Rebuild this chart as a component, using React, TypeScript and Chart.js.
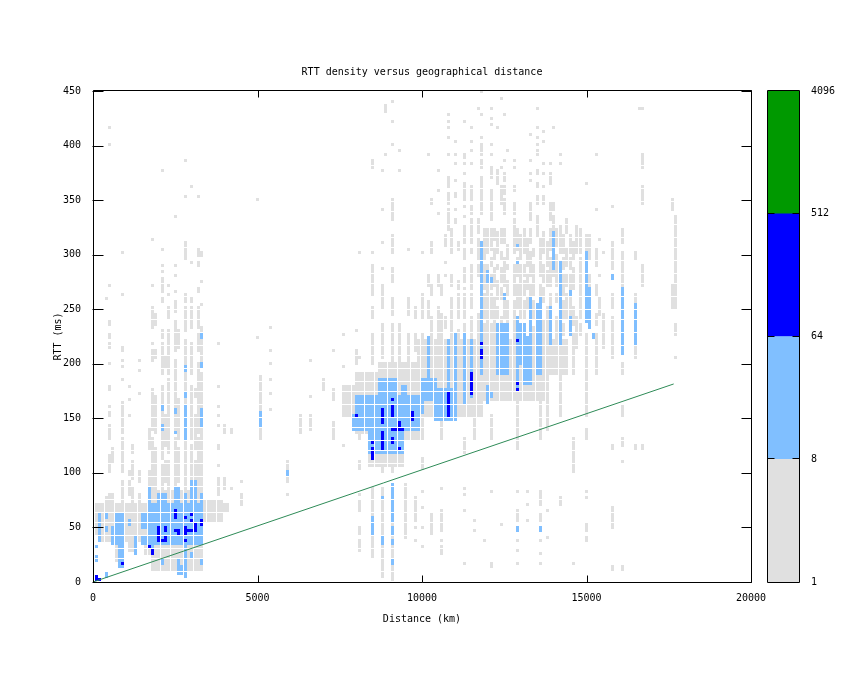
import React, { useEffect, useRef } from "react";
import { Chart, registerables } from "chart.js";

Chart.register(...registerables);

const titleText = "RTT density versus geographical distance";
const xLabel = "Distance (km)";
const yLabel = "RTT (ms)";
const colourTicks = [1, 8, 64, 512, 4096];
const colourBands = [[1, 8], [8, 64], [64, 512], [512, 4096]];
const bandColours = ["#e0e0e0", "#80bfff", "#0000ff", "#009900"];
const fitLine = [{ x: 0, y: 0 }, { x: 17650, y: 181.5 }];

// [kmLo, kmHi, msLo, msHi]
const grayBlocks = [
  [0, 200, 42, 72], [200, 1600, 36, 72], [600, 900, 18, 36], [1000, 1200, 27, 36], [1500, 1700, 24, 36], [1600, 1700, 24, 75], [1700, 3300, 9, 84], [3300, 3900, 54, 75], [3900, 4100, 63, 72],
  [7900, 8300, 135, 190], [8300, 9400, 105, 190], [9400, 10000, 130, 190], [7500, 7900, 150, 180], [8600, 9900, 190, 200],
  [9800, 11800, 150, 222], [11000, 14400, 190, 222], [11800, 13800, 165, 190],
];
const lightBlocks = [
  [1600, 3300, 33, 72], [1600, 1700, 72, 87], [1900, 2200, 72, 81], [2400, 2600, 72, 87], [2700, 2800, 72, 81], [2900, 3100, 72, 92], [3200, 3300, 72, 81],
  [600, 900, 34, 63], [300, 400, 57, 63], [300, 400, 45, 51], [500, 600, 35, 51], [1000, 1100, 51, 57], [1200, 1300, 34, 42], [1400, 1600, 48, 61], [1400, 1600, 34, 42],
  [7900, 10000, 153, 170], [7800, 9900, 140, 153], [8300, 9400, 117, 140], [8600, 9200, 170, 185], [9300, 9500, 170, 180],
  [9900, 10400, 165, 185], [10300, 11000, 148, 175], [12200, 12600, 190, 237], [13000, 13300, 180, 225], [13400, 13600, 190, 255],
  [12900, 13100, 200, 235],
];
const blueCells = [
  [0, 0], [0, 3], [100, 0],
  [2400, 63], [2400, 60], [2400, 57], [2700, 57], [2900, 60], [2900, 54], [3200, 54], [3200, 51],
  [1900, 48], [1900, 45], [1900, 42], [1900, 39], [1900, 36], [2100, 48], [2100, 45], [2400, 45], [2500, 45], [2500, 42],
  [2700, 48], [2700, 45], [2700, 42], [2800, 45], [2900, 45], [3000, 51], [3000, 48], [3000, 45], [2700, 36], [2000, 36], [2100, 36], [2100, 39],
  [1600, 30], [1700, 27], [1700, 24], [800, 15],
  [7900, 150], [8700, 156], [8700, 153], [8700, 150], [8700, 147], [8700, 144], [8700, 135], [8700, 132], [8700, 129], [8700, 126], [8700, 123], [8700, 120],
  [9000, 165], [9000, 159], [9000, 156], [9000, 153], [9000, 150], [9000, 138], [9000, 129], [9000, 126],
  [9200, 144], [9200, 141], [9100, 138], [9200, 138], [9300, 138], [9600, 153], [9600, 150], [9600, 147],
  [8400, 126], [8400, 120], [8400, 117], [8400, 114], [8400, 111], [9200, 120],
  [10700, 171], [10700, 168], [10700, 165], [10700, 162], [10700, 159], [10700, 156], [10700, 153], [10700, 150],
  [11400, 189], [11400, 186], [11400, 183], [11400, 180], [11400, 177], [11400, 174], [11400, 171],
  [11700, 216], [11700, 210], [11700, 207], [11700, 204], [12800, 219], [12800, 180], [12800, 174],
];
// [km, lo, hi, lo, hi, ...]
const lightCols = [
  [2700, 193, 197, 170, 172, 130, 160, 3, 30], [3200, 224, 226, 196, 198, 141, 156], [2000, 158, 160, 140, 142], [2400, 154, 156, 135, 137], [5000, 142, 155],
  [5800, 96, 99], [2600, 7, 12], [2500, 8, 18], [0, 30, 32, 18, 21], [100, 36, 60], [2900, 21, 24], [3200, 15, 18], [2000, 15, 18], [700, 21, 32, 12, 18], [800, 21, 32, 12, 18], [1200, 24, 30], [1700, 25, 32], [300, 3, 6],
  [8400, 44, 57], [8700, 75, 77, 35, 41], [9000, 84, 87, 54, 81, 43, 48, 35, 38, 17, 19], [12800, 46, 48], [13500, 46, 48],
  [10100, 179, 222], [10700, 148, 219], [10900, 158, 225], [11200, 164, 225], [11400, 170, 219], [11700, 191, 310], [11900, 164, 179, 274, 284], [12000, 170, 173, 275, 278],
  [12300, 191, 231], [12400, 258, 263], [12800, 179, 240, 292, 292, 306, 306], [13200, 200, 258], [13500, 191, 258], [13800, 216, 249], [13900, 286, 318], [14100, 216, 292], [14900, 237, 300], [15000, 231, 269], [16000, 208, 269], [16400, 217, 254], [15700, 277, 279],
  [14400, 225, 240, 262, 264], [15100, 223, 226],
];
const grayCols = [
  [400, 66, 80, 130, 142, 150, 153, 159, 159, 176, 179, 200, 200, 213, 213, 218, 218, 222, 222, 226, 226, 234, 238, 270, 270, 100, 115, 416, 416, 400, 400],
  [800, 100, 130, 135, 164, 185, 185, 197, 197, 203, 203, 211, 215, 263, 263, 300, 300, 72, 90],
  [500, 72, 80, 110, 120], [300, 72, 75, 260, 260], [1100, 72, 85, 95, 110, 118, 125], [1300, 72, 80, 90, 100, 173, 173, 194, 194, 203, 203], [1000, 80, 90, 96, 100, 152, 152, 165, 165, 178, 178],
  [1600, 84, 100, 120, 140],
  [1700, 84, 130, 140, 176, 202, 210, 216, 216, 231, 246, 251, 251, 270, 270, 313, 313],
  [1800, 84, 120, 135, 170, 205, 210, 235, 245],
  [2000, 84, 105, 112, 179, 191, 218, 222, 228, 256, 258, 264, 270, 274, 278, 284, 284, 290, 290, 305, 305, 377, 377],
  [2100, 90, 110, 125, 150, 195, 205],
  [2200, 84, 110, 118, 185, 190, 225, 228, 228, 240, 250, 262, 262, 270, 270],
  [2400, 84, 130, 138, 203, 212, 237, 248, 255, 266, 266, 280, 280, 290, 290, 335, 335],
  [2500, 90, 120, 130, 165, 215, 230],
  [2700, 84, 190, 192, 220, 230, 250, 255, 262, 295, 310, 353, 353, 385, 385],
  [2900, 84, 125, 130, 179, 190, 218, 231, 250, 255, 258, 292, 292, 362, 362],
  [3000, 90, 110, 120, 150, 170, 176],
  [3100, 84, 130, 137, 198, 210, 225, 231, 250, 265, 268, 289, 292, 298, 302, 305, 305, 353, 353],
  [3200, 84, 140, 145, 190, 200, 220, 228, 232, 254, 254, 275, 275, 298, 302],
  [3700, 78, 95, 105, 105, 120, 125, 142, 142, 152, 152, 161, 161, 179, 179, 218, 218],
  [3900, 85, 95, 136, 142], [4100, 85, 85, 136, 139], [4400, 70, 78, 90, 90], [5000, 130, 188], [4900, 350, 350, 222, 222], [5300, 158, 158, 173, 173, 185, 185, 200, 200, 210, 210, 232, 232],
  [5800, 90, 108, 80, 80], [6200, 137, 150], [6500, 140, 150, 170, 170, 202, 202],
  [6900, 175, 185], [7200, 130, 145, 165, 175, 210, 210], [7500, 125, 125, 195, 195, 225, 225], [7900, 200, 212, 230, 230],
  [8000, 29, 38, 43, 50, 63, 72, 78, 78, 102, 110, 205, 205], [8400, 23, 84, 200, 225, 240, 250, 262, 290, 300, 300, 380, 385], [8700, 5, 84, 100, 112, 205, 235, 250, 270, 285, 285, 310, 310, 340, 340, 375, 375], [9000, 2, 87, 100, 110, 200, 235, 245, 260, 275, 285, 300, 315, 330, 350, 400, 400, 420, 420, 440, 440],
  [9400, 40, 87], [9700, 38, 38, 48, 48, 54, 75, 210, 225, 240, 250], [9900, 31, 31, 48, 48, 68, 68, 83, 83, 102, 112, 200, 225, 240, 262, 300, 300],
  [10100, 390, 390, 240, 255, 270, 280], [10200, 43, 60, 222, 240, 262, 270, 300, 310, 345, 350], [10400, 376, 376, 359, 359, 338, 338, 222, 250, 270, 280], [10500, 25, 31, 37, 37, 45, 64, 84, 84, 130, 145, 222, 245, 262, 270],
  [10600, 231, 240, 280, 280, 292, 292, 308, 316],
  [10700, 428, 428, 422, 422, 416, 416, 406, 406, 390, 390, 361, 371, 345, 356, 330, 341, 323, 327],
  [10800, 222, 240, 240, 258, 270, 280, 300, 322],
  [10900, 403, 403, 392, 392, 382, 382, 368, 368, 351, 356, 341, 341, 329, 332],
  [11000, 222, 230, 240, 262, 268, 275, 304, 310],
  [11200, 17, 17, 64, 64, 80, 80, 86, 86, 118, 130, 222, 235, 240, 262, 268, 268, 275, 286, 295, 304, 310, 324, 335, 335, 344, 344, 349, 364, 373, 373, 382, 382, 388, 392, 422, 422],
  [11400, 222, 240, 250, 262, 268, 290, 300, 304, 310, 330, 336, 344, 350, 361, 382, 382, 394, 394, 403, 403, 416, 416],
  [11500, 46, 46, 55, 55, 130, 148],
  [11600, 222, 245, 280, 288, 295, 313, 318, 330, 432, 432],
  [11700, 336, 355, 358, 364, 367, 371, 379, 385, 390, 396, 401, 401, 406, 406, 428, 428, 449, 449],
  [11800, 37, 37, 222, 235, 240, 262, 268, 290, 295, 322],
  [11900, 222, 240, 240, 258, 262, 290, 300, 322],
  [12000, 13, 17, 83, 83, 130, 150, 222, 235, 240, 262, 268, 280, 290, 295, 305, 322, 330, 335, 336, 345, 348, 358, 370, 375, 379, 379, 390, 390, 399, 399, 419, 419, 425, 425, 432, 432],
  [12100, 222, 240, 245, 258, 270, 286, 295, 304, 313, 322],
  [12200, 222, 235, 240, 250, 260, 275, 286, 290, 300, 318, 365, 375, 416, 416],
  [12300, 52, 52, 222, 240, 260, 268, 275, 285, 295, 300, 310, 322, 345, 360, 379, 379, 443, 443],
  [12400, 222, 235, 240, 258, 270, 295, 310, 322, 336, 350, 355, 360, 367, 372, 384, 384, 428, 428],
  [12500, 222, 238, 240, 255, 262, 275, 285, 290, 295, 308, 394, 394],
  [12700, 222, 240, 245, 255, 262, 290, 300, 332, 336, 345, 358, 362, 378, 378, 385, 385],
  [12800, 17, 17, 28, 28, 37, 37, 54, 63, 83, 83, 120, 165, 250, 270, 280, 295, 305, 322],
  [12900, 222, 230, 240, 258, 262, 270, 275, 288, 295, 315],
  [13000, 240, 255, 262, 275, 280, 290, 300, 322],
  [13100, 54, 54, 70, 70, 83, 83, 250, 258, 268, 280, 290, 313],
  [13200, 222, 240, 255, 270, 280, 300, 310, 322, 330, 345, 368, 368, 374, 374, 386, 386, 410, 410],
  [13300, 222, 231, 240, 255, 262, 270, 275, 290, 298, 304],
  [13400, 315, 335, 345, 352, 361, 365, 372, 377, 390, 390, 395, 395, 401, 401, 406, 406, 416, 416, 432, 432],
  [13500, 17, 17, 26, 26, 37, 37, 54, 60, 70, 83, 130, 165, 262, 270, 280, 313],
  [13600, 222, 238, 255, 268, 275, 290, 300, 318, 345, 352, 362, 362, 373, 373, 382, 382, 404, 404, 413, 413],
  [13700, 39, 39, 64, 64, 140, 165, 222, 250, 270, 284, 290, 310],
  [13800, 225, 240, 250, 262, 270, 295, 305, 322, 330, 345, 364, 364, 367, 373, 382, 382],
  [13900, 280, 300, 318, 335, 340, 345, 416, 416],
  [14000, 222, 240, 255, 262, 270, 298, 308, 322],
  [14100, 70, 75, 150, 190, 300, 325, 382, 382, 390, 390],
  [14200, 225, 235, 240, 255, 262, 280, 285, 295, 300, 315],
  [14300, 240, 262, 270, 280, 290, 304, 318, 330],
  [14400, 245, 258, 262, 280, 285, 295, 300, 316],
  [14500, 17, 17, 100, 130, 190, 225, 235, 250, 268, 286, 295, 310],
  [14600, 300, 325, 215, 240],
  [14700, 225, 235, 240, 255, 258, 295, 300, 322],
  [14900, 37, 40, 46, 52, 75, 75, 83, 83, 130, 140, 150, 225, 300, 315, 364, 364],
  [15000, 250, 260, 270, 280, 295, 316],
  [15200, 190, 225, 235, 245, 262, 270, 290, 305, 341, 341, 392, 392],
  [15300, 245, 260, 280, 280, 313, 313],
  [15400, 215, 245, 300, 300],
  [15700, 10, 14, 50, 66, 120, 125, 205, 240, 250, 262, 285, 310, 344, 344],
  [16000, 10, 14, 110, 110, 125, 130, 150, 160, 190, 200, 270, 300, 310, 322], [16400, 120, 125, 205, 262, 295, 300], [16600, 120, 125, 270, 290, 345, 360, 380, 390, 432, 432], [16500, 432, 432],
  [17500, 250, 270, 340, 350], [17600, 205, 205, 225, 235, 250, 333],
  [8000, 130, 150, 300, 300], [8800, 390, 390, 430, 435], [9200, 200, 235, 375, 375, 395, 395], [9500, 200, 225, 245, 260, 305, 305],
];

type Cell = { x: number; y: number };
const toCell = (km: number, ms: number): Cell => ({ x: km + 50, y: Math.floor(ms / 3) * 3 + 1.5 });
function expandBlocks(blocks: number[][]): Cell[] {
  const out: Cell[] = [];
  for (const [a, b, c, d] of blocks)
    for (let km = a; km < b; km += 100)
      for (let ms = Math.floor(c / 3) * 3; ms < d; ms += 3) out.push(toCell(km, ms));
  return out;
}
function expandCols(cols: number[][]): Cell[] {
  const out: Cell[] = [];
  for (const col of cols)
    for (let i = 1; i + 1 < col.length; i += 2) {
      const lo = Math.min(col[i], col[i + 1]);
      const hi = Math.max(col[i], col[i + 1]);
      for (let ms = Math.floor(lo / 3) * 3; ms <= hi; ms += 3) out.push(toCell(col[0], ms));
    }
  return out;
}

const monoFont = { family: "'DejaVu Sans Mono', monospace", size: 10 };

const snapCells = {
  id: "snapCells",
  afterDatasetsUpdate(chart: any) {
    chart.data.datasets.forEach((ds: any, i: number) => {
      if (ds.type === "line") return;
      for (const el of chart.getDatasetMeta(i).data) {
        el.x = Math.round(el.x + 1.25) + 0.5;
        el.y = Math.round(el.y - 0.2) - 0.5;
      }
    });
  },
};

const frameTicks = {
  id: "frameTicks",
  afterDraw(chart: any) {
    const { ctx, chartArea: a, scales } = chart;
    const L = Math.round(a.left) + 0.5, R = Math.round(a.right) + 0.5, T = Math.round(a.top) - 0.5, B = Math.round(a.bottom) + 0.5;
    ctx.save();
    ctx.strokeStyle = "#000";
    ctx.lineWidth = 1;
    ctx.beginPath();
    ctx.rect(L, T, R - L, B - T);
    for (const t of scales.x.ticks) {
      const p = Math.round(scales.x.getPixelForValue(t.value)) + 0.5;
      ctx.moveTo(p, B); ctx.lineTo(p, B - 7);
      ctx.moveTo(p, T); ctx.lineTo(p, T + 7);
    }
    for (const t of scales.y.ticks) {
      const p = Math.round(scales.y.getPixelForValue(t.value)) + 0.5;
      ctx.moveTo(L - 1, p); ctx.lineTo(L + 10, p);
      ctx.moveTo(R, p); ctx.lineTo(R - 10, p);
    }
    ctx.stroke();
    ctx.restore();
  },
};

const barFrame = {
  id: "barFrame",
  afterDraw(chart: any) {
    const { ctx, chartArea: a, scales } = chart;
    const L = Math.round(a.left) - 0.5, R = Math.round(a.right) - 0.5, T = Math.round(a.top) - 0.5, B = Math.round(a.bottom) + 0.5;
    ctx.save();
    ctx.strokeStyle = "#000";
    ctx.lineWidth = 1;
    ctx.beginPath();
    ctx.rect(L, T, R - L, B - T);
    for (const v of colourTicks.slice(1, -1)) {
      const p = Math.round(scales.y.getPixelForValue(v)) - 0.5;
      ctx.moveTo(L, p); ctx.lineTo(L + 7, p);
      ctx.moveTo(R, p); ctx.lineTo(R - 7, p);
    }
    ctx.stroke();
    ctx.restore();
  },
};

export default function App() {
  const mainRef = useRef<HTMLCanvasElement>(null);
  const barRef = useRef<HTMLCanvasElement>(null);

  useEffect(() => {
    const cellStyle = (data: Cell[], colour: string, order: number) => ({
      type: "scatter" as const,
      data,
      order,
      pointStyle: "rect",
      pointRadius: 1.5 * Math.SQRT2,
      pointBorderWidth: 0,
      backgroundColor: colour,
      borderColor: colour,
    });
    const main = new Chart(mainRef.current!, {
      type: "scatter",
      data: {
        datasets: [
          { type: "line", data: fitLine, borderColor: "#2e8b57", borderWidth: 1, pointRadius: 0, order: 0 },
          cellStyle(blueCells.map(([k, m]) => toCell(k, m)), bandColours[2], 1),
          cellStyle([...expandBlocks(lightBlocks), ...expandCols(lightCols)], bandColours[1], 2),
          cellStyle([...expandBlocks(grayBlocks), ...expandCols(grayCols)], bandColours[0], 3),
        ] as any,
      },
      options: {
        responsive: false,
        devicePixelRatio: 1,
        animation: false,
        events: [],
        layout: { padding: { top: 0, right: 94, bottom: 0, left: 0 } },
        plugins: {
          legend: { display: false },
          tooltip: { enabled: false },
          title: { display: true, text: titleText, color: "#000", font: { ...monoFont, weight: "normal" }, padding: { top: 66, bottom: 13 }, fullSize: false },
        },
        scales: {
          x: {
            type: "linear", min: 0, max: 20000,
            ticks: { stepSize: 5000, color: "#000", font: monoFont, padding: 10, maxRotation: 0, callback: (v: any) => String(v) },
            grid: { display: false, drawTicks: false }, border: { display: false },
            title: { display: true, text: xLabel, color: "#000", font: monoFont, padding: { top: 0, bottom: 48 } },
            afterFit: (s: any) => { s.height = 91; },
          },
          y: {
            type: "linear", min: 0, max: 450,
            ticks: { stepSize: 50, color: "#000", font: monoFont, padding: 12 },
            grid: { display: false, drawTicks: false }, border: { display: false },
            title: { display: true, text: yLabel, color: "#000", font: monoFont, padding: { top: 52, bottom: 0 } },
            afterFit: (s: any) => { s.width = 93; },
          },
        },
      },
      plugins: [snapCells, frameTicks],
    } as any);

    const bar = new Chart(barRef.current!, {
      type: "bar",
      data: {
        labels: ["density"],
        datasets: colourBands.map((band, i) => ({ data: [band], backgroundColor: bandColours[i], borderWidth: 0 })) as any,
      },
      options: {
        responsive: false,
        devicePixelRatio: 1,
        animation: false,
        events: [],
        layout: { padding: { top: 91, right: 0, bottom: 91, left: 768 } },
        plugins: { legend: { display: false }, tooltip: { enabled: false } },
        scales: {
          x: { display: false, stacked: true, offset: true, grid: { display: false } },
          y: {
            type: "logarithmic", position: "right", min: 1, max: 4096,
            afterBuildTicks: (s: any) => { s.ticks = colourTicks.map((value) => ({ value })); },
            ticks: { color: "#000", font: monoFont, padding: 11, autoSkip: false, callback: (v: any) => String(v) },
            grid: { display: false, drawTicks: false }, border: { display: false },
            afterFit: (s: any) => { s.width = 45; },
          },
        },
        datasets: { bar: { categoryPercentage: 1, barPercentage: 1 } },
      },
      plugins: [barFrame],
    } as any);

    return () => { main.destroy(); bar.destroy(); };
  }, []);

  const style: React.CSSProperties = { position: "absolute", left: 0, top: 0, display: "block" };
  return (
    <div>
      <canvas ref={mainRef} width={845} height={673} style={style} />
      <canvas ref={barRef} width={845} height={673} style={{ ...style, pointerEvents: "none" }} />
    </div>
  );
}
